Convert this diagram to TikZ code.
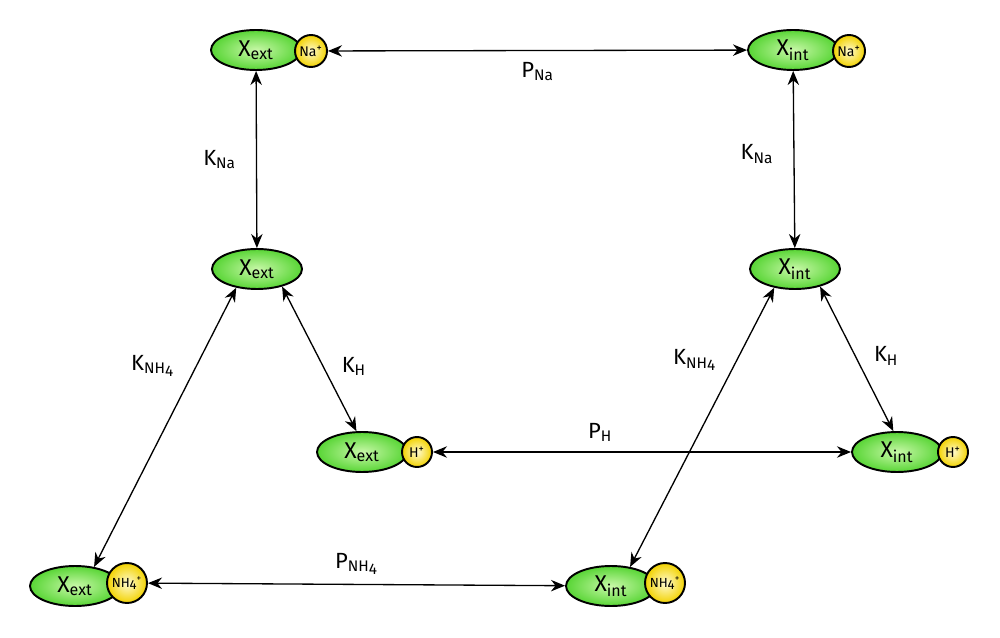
\documentclass[tikz,border=0pt]{standalone}
\usepackage{fontspec}
\setmainfont{Fira Sans}
\usetikzlibrary{shapes.geometric,arrows.meta}

\definecolor{molgreen}{HTML}{58D535}
\definecolor{mollight}{HTML}{C8F8A8}
\definecolor{ionyellow}{HTML}{F2D200}
\definecolor{ionlight}{HTML}{FFFBD0}

\newcommand{\ext}{X\textsubscript{ext}}
\newcommand{\inte}{X\textsubscript{int}}
\newcommand{\nhfour}{NH\raisebox{-0.3ex}{4}}

\tikzset{
	mol/.style={shape=ellipse,draw=black,line width=1.1pt,minimum width=1.8cm,minimum height=0.8cm,inner sep=0pt,inner color=mollight,outer color=molgreen,font=\fontsize{13}{15}\selectfont},
	ion/.style={shape=circle,draw=black,line width=1.1pt,minimum size=0.64cm,inner sep=0pt,inner color=ionlight,outer color=ionyellow,font=\fontsize{8}{9}\selectfont},
	bigion/.style={ion,minimum size=0.8cm,font=\fontsize{7.5}{9}\selectfont},
	link/.style={{Stealth[length=8pt,width=6.5pt]}-{Stealth[length=8pt,width=6.5pt]},line width=0.75pt},
	lab/.style={font=\fontsize{12.5}{15}\selectfont}
}

\begin{document}
\begin{tikzpicture}[x=0.02cm,y=-0.02cm]
			\useasboundingbox[fill=white] (0,0) rectangle (1000,638);

			\node[mol] (extNa) at (256,50) {\ext};
			\node[ion] (extNaIon) at (311,51) {Na\textsuperscript{+}};
			\node[mol] (intNa) at (793,50) {\inte};
			\node[ion] (intNaIon) at (849,51) {Na\textsuperscript{+}};

			\node[mol] (ext) at (257,269) {\ext};
			\node[mol] (int) at (795,269) {\inte};

			\node[mol] (extH) at (362,452) {\ext};
			\node[ion,minimum size=0.6cm] (extHIon) at (417,452) {H\textsuperscript{+}};
			\node[mol] (intH) at (897,452) {\inte};
			\node[ion,minimum size=0.6cm] (intHIon) at (953,452) {H\textsuperscript{+}};

			\node[mol] (extNH) at (75,586) {\ext};
			\node[bigion] (extNHIon) at (127,583) {\nhfour\textsuperscript{+}};
			\node[mol] (intNH) at (611,586) {\inte};
			\node[bigion] (intNHIon) at (665,583) {\nhfour\textsuperscript{+}};

			\path [link] (extNaIon) edge node[lab,below=3pt] {P\textsubscript{Na}} (intNa);
			\path [link] (extNa) edge node[lab,left=8pt] {K\textsubscript{Na}} (ext);
			\path [link] (intNa) edge node[lab,left=8pt,pos=0.47] {K\textsubscript{Na}} (int);
			\path [link] (ext.222) edge node[lab,left=9pt,pos=0.28] {K\textsubscript{\nhfour}} (extNH.45);
			\path [link] (ext.325) edge node[lab,right=7pt,pos=0.55] {K\textsubscript{H}} (extH.105);
			\path [link] (int.222) edge node[lab,left=8pt,pos=0.26] {K\textsubscript{\nhfour}} (intNH.45);
			\path [link] (int.325) edge node[lab,right=7pt,pos=0.48] {K\textsubscript{H}} (intH.100);
			\path [link] (extHIon) edge node[lab,above=2pt,pos=0.4] {P\textsubscript{H}} (intH);
			\path [link] (extNHIon) edge node[lab,above=2pt] {P\textsubscript{\nhfour}} (intNH);
		\end{tikzpicture}
\end{document}
